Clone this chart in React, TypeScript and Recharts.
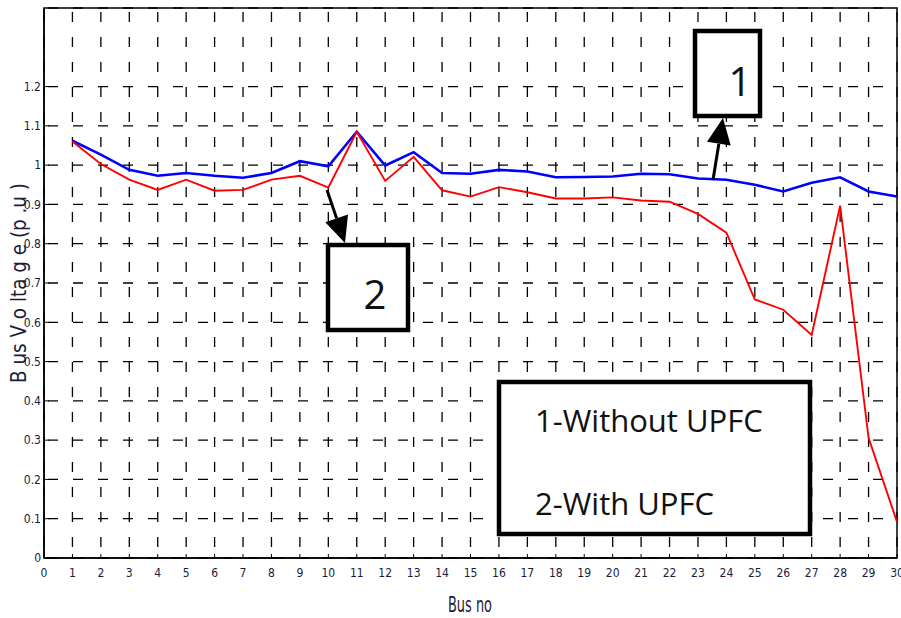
import React from "react";
import {
  CartesianGrid,
  Line,
  LineChart,
  ReferenceArea,
  XAxis,
  YAxis,
} from "recharts";

const buses = [
  1, 2, 3, 4, 5, 6, 7, 8, 9, 10, 11, 12, 13, 14, 15, 16, 17, 18, 19, 20, 21, 22, 23, 24, 25, 26, 27, 28, 29, 30,
];

// 1 - without UPFC (blue)
const withoutUpfc = [
  1.062, 1.027, 0.988, 0.973, 0.98, 0.973, 0.968, 0.98, 1.01, 0.997, 1.085, 0.999, 1.033, 0.98, 0.978,
  0.988, 0.984, 0.969, 0.97, 0.971, 0.978, 0.977, 0.966, 0.963, 0.95, 0.933, 0.955, 0.969, 0.933, 0.92,
];

// 2 - with UPFC (red)
const withUpfc = [
  1.06, 1.003, 0.963, 0.937, 0.963, 0.935, 0.937, 0.963, 0.973, 0.943, 1.085, 0.96, 1.021, 0.936, 0.92,
  0.944, 0.931, 0.915, 0.915, 0.918, 0.91, 0.907, 0.876, 0.828, 0.658, 0.632, 0.568, 0.897, 0.306, 0.092,
];

const xTicks = [
  0, 1, 2, 3, 4, 5, 6, 7, 8, 9, 10, 11, 12, 13, 14, 15, 16, 17, 18, 19, 20, 21, 22, 23, 24, 25, 26, 27, 28, 29, 30,
];
const yTicks = [0, 0.1, 0.2, 0.3, 0.4, 0.5, 0.6, 0.7, 0.8, 0.9, 1, 1.1, 1.2];

const data = buses.map((bus, i) => ({
  bus,
  without: withoutUpfc[i],
  with: withUpfc[i],
}));

const narrow = "'Liberation Sans Narrow', 'DejaVu Sans Condensed', 'Liberation Sans', sans-serif";
const boxFont = "'Open Sans', 'Noto Sans', sans-serif";
const tickStyle = { fontSize: 12, fill: "#1c1c3a", fontFamily: narrow };

function Arrow({ from, to }: { from: [number, number]; to: [number, number] }) {
  const dx = to[0] - from[0];
  const dy = to[1] - from[1];
  const len = Math.hypot(dx, dy);
  const ux = dx / len;
  const uy = dy / len;
  const head = 26;
  const half = 12;
  const bx = to[0] - ux * head;
  const by = to[1] - uy * head;
  const p1 = `${bx - uy * half},${by + ux * half}`;
  const p2 = `${bx + uy * half},${by - ux * half}`;
  return (
    <g>
      <line x1={from[0]} y1={from[1]} x2={bx} y2={by} stroke="#000" strokeWidth={3} />
      <polygon points={`${to[0]},${to[1]} ${p1} ${p2}`} fill="#000" />
    </g>
  );
}

export default function App() {
  return (
    <div style={{ position: "absolute", left: 0, top: 0, width: 901, height: 618, background: "#fff" }}>
      <LineChart width={901} height={618} data={data} margin={{ top: 8, right: 4, bottom: 0, left: 0 }}>
        <CartesianGrid stroke="#000" strokeWidth={1.3} strokeDasharray="10 15" strokeDashoffset={21} />
        <XAxis
          dataKey="bus"
          type="number"
          domain={[0, 30]}
          ticks={xTicks}
          interval={0}
          height={60}
          tick={tickStyle}
          tickSize={-4}
          tickMargin={14}
          tickLine={{ stroke: "#000" }}
          axisLine={{ stroke: "#000", strokeWidth: 1.5 }}
        />
        <YAxis
          type="number"
          domain={[0, 1.4]}
          ticks={yTicks}
          interval={0}
          width={44}
          tick={tickStyle}
          tickFormatter={(v: number) => String(Math.round(v * 10) / 10)}
          tickSize={-5}
          tickMargin={8}
          tickLine={{ stroke: "#000" }}
          axisLine={{ stroke: "#000", strokeWidth: 1.5 }}
        />
        <YAxis
          yAxisId="r"
          orientation="right"
          type="number"
          domain={[0, 1.4]}
          ticks={yTicks}
          interval={0}
          width={0}
          tick={() => <g />}
          tickSize={-5}
          tickLine={{ stroke: "#000" }}
          axisLine={{ stroke: "#000", strokeWidth: 1.5 }}
        />
        <ReferenceArea x1={0} x2={30} y1={0} y2={1.4} fill="none" fillOpacity={0} stroke="#000" strokeWidth={1.5} />
        <Line
          dataKey="without"
          stroke="#0000ff"
          strokeWidth={2.6}
          dot={false}
          isAnimationActive={false}
        />
        <Line
          dataKey="with"
          stroke="#ff0000"
          strokeWidth={1.9}
          dot={false}
          isAnimationActive={false}
        />
      </LineChart>

      <svg
        width={901}
        height={618}
        style={{ position: "absolute", left: 0, top: 0, pointerEvents: "none" }}
      >
        <text
          x={19}
          y={283}
          transform="rotate(-90 19 283)"
          textAnchor="middle"
          dominantBaseline="central"
          fontFamily={narrow}
          fontSize={21}
          fill="#1c1c3a"
          textLength={200}
          lengthAdjust="spacingAndGlyphs"
        >
          B us V o lta g e (p .u )
        </text>
        <text
          x={470}
          y={612}
          textAnchor="middle"
          fontFamily={narrow}
          fontSize={22}
          fill="#1c1c3a"
          textLength={44}
          lengthAdjust="spacingAndGlyphs"
        >
          Bus no
        </text>

        <Arrow from={[713, 180]} to={[723, 118]} />
        <Arrow from={[327, 190]} to={[345, 243]} />

        <rect x={695} y={31} width={65} height={85} fill="#fff" stroke="#000" strokeWidth={4.5} />
        <text x={740} y={96} textAnchor="middle" fontFamily={boxFont} fontSize={40} fill="#111">
          1
        </text>

        <rect x={328} y={245} width={80} height={85} fill="#fff" stroke="#000" strokeWidth={4.5} />
        <text x={375} y={309} textAnchor="middle" fontFamily={boxFont} fontSize={40} fill="#111">
          2
        </text>

        <rect x={499} y={382} width={311} height={152} fill="#fff" stroke="#000" strokeWidth={4.5} />
        <text x={535} y={432} fontFamily={boxFont} fontSize={31} fill="#111">
          1-Without UPFC
        </text>
        <text x={535} y={515} fontFamily={boxFont} fontSize={31} fill="#111">
          2-With UPFC
        </text>
      </svg>
    </div>
  );
}
